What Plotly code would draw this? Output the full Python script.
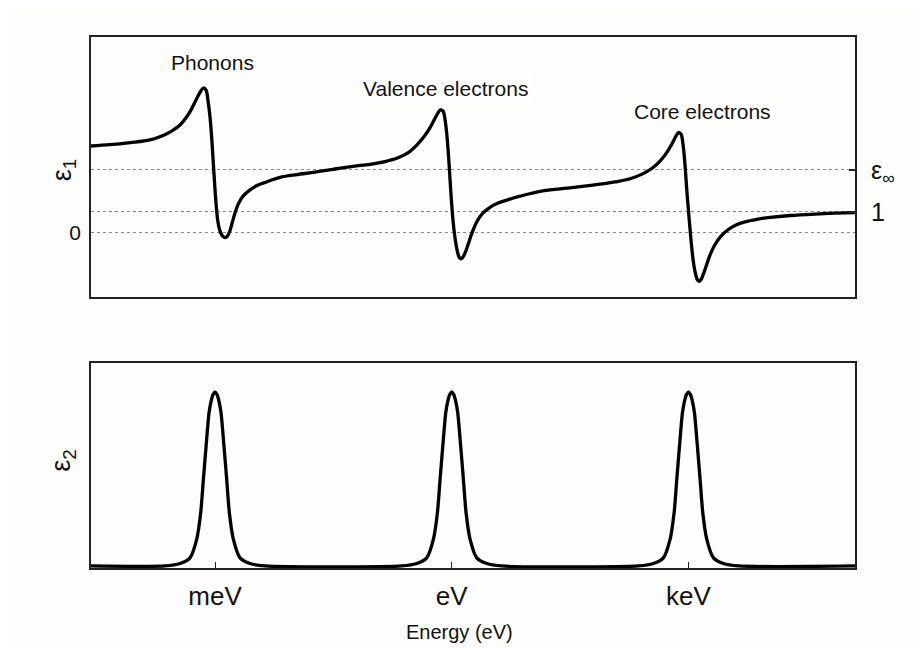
import plotly.graph_objects as go

# ---- data (x = log10 of energy in eV) ----
log_energy_eps1 = [-4.572, -4.331, -4.077, -3.824, -3.659, -3.545, -3.444, -3.368, -3.304, -3.241,
                   -3.190, -3.146, -3.114, -3.089, -3.063, -3.038, -3.013, -2.987, -2.962, -2.930,
                   -2.899, -2.873, -2.848, -2.816, -2.785, -2.747, -2.702, -2.645, -2.556, -2.455,
                   -2.341, -2.176, -1.961, -1.758, -1.504, -1.251, -1.036, -0.845, -0.681, -0.541,
                   -0.427, -0.338, -0.262, -0.199, -0.142, -0.110, -0.085, -0.060, -0.034, -0.009,
                   0.016, 0.042, 0.067, 0.093, 0.118, 0.143, 0.175, 0.207, 0.257, 0.321,
                   0.397, 0.485, 0.587, 0.701, 0.866, 1.119, 1.373, 1.626, 1.880, 2.070,
                   2.260, 2.412, 2.539, 2.640, 2.729, 2.792, 2.843, 2.875, 2.906, 2.932,
                   2.957, 2.982, 3.008, 3.033, 3.058, 3.084, 3.109, 3.134, 3.160, 3.185,
                   3.223, 3.274, 3.337, 3.413, 3.502, 3.603, 3.717, 3.870, 4.034, 4.288,
                   4.605, 4.858, 5.111]
eps1 = [4.14, 4.20, 4.30, 4.43, 4.64, 4.86, 5.14, 5.48, 5.86, 6.33,
        6.70, 6.90, 6.80, 6.30, 5.50, 4.30, 2.80, 1.40, 0.50, 0.02,
        -0.17, -0.22, -0.17, 0.05, 0.45, 0.95, 1.40, 1.75, 2.05, 2.28,
        2.44, 2.65, 2.78, 2.88, 3.03, 3.17, 3.27, 3.40, 3.58, 3.85,
        4.25, 4.65, 5.10, 5.55, 5.86, 5.80, 5.40, 4.60, 3.30, 1.80,
        0.60, -0.25, -0.80, -1.15, -1.24, -1.15, -0.90, -0.55, 0.00, 0.55,
        0.95, 1.22, 1.42, 1.57, 1.75, 1.98, 2.10, 2.20, 2.32, 2.43,
        2.58, 2.80, 3.08, 3.42, 3.85, 4.25, 4.62, 4.79, 4.70, 4.20,
        3.20, 1.90, 0.70, -0.35, -1.25, -1.85, -2.20, -2.31, -2.22, -2.00,
        -1.60, -1.05, -0.55, -0.15, 0.15, 0.38, 0.53, 0.65, 0.74, 0.83,
        0.90, 0.94, 0.97]

log_energy_eps2 = [-4.572,
                   -3.634, -3.444, -3.317, -3.232, -3.181, -3.148, -3.114, -3.076, -3.051, -3.025, -3.000,
                   -2.975, -2.949, -2.924, -2.886, -2.852, -2.819, -2.768, -2.683, -2.556, -2.366,
                   -0.634, -0.444, -0.317, -0.232, -0.181, -0.148, -0.114, -0.076, -0.051, -0.025, 0.000,
                   0.025, 0.051, 0.076, 0.114, 0.148, 0.181, 0.232, 0.317, 0.444, 0.634,
                   2.366, 2.556, 2.683, 2.768, 2.819, 2.852, 2.886, 2.924, 2.949, 2.975, 3.000,
                   3.025, 3.051, 3.076, 3.114, 3.148, 3.181, 3.232, 3.317, 3.444, 3.634,
                   5.111]
eps2 = [0.0,
        0.0, 0.012, 0.04, 0.132, 0.265, 0.426, 0.588, 0.755, 0.81, 0.845, 0.858,
        0.845, 0.81, 0.755, 0.588, 0.426, 0.265, 0.132, 0.04, 0.012, 0.0,
        0.0, 0.012, 0.04, 0.132, 0.265, 0.426, 0.588, 0.755, 0.81, 0.845, 0.858,
        0.845, 0.81, 0.755, 0.588, 0.426, 0.265, 0.132, 0.04, 0.012, 0.0,
        0.0, 0.012, 0.04, 0.132, 0.265, 0.426, 0.588, 0.755, 0.81, 0.845, 0.858,
        0.845, 0.81, 0.755, 0.588, 0.426, 0.265, 0.132, 0.04, 0.012, 0.0,
        0.0]

energy_ticks = [-3, 0, 3]
energy_tick_labels = ["meV", "eV", "keV"]
left_levels = [0]
left_labels = ["0"]
right_levels = [1, 3]                 # 1 and epsilon_infinity
right_labels = ["1", "ε<sub>∞</sub>"]
resonance_labels = ["Phonons", "Valence electrons", "Core electrons"]
resonance_label_x = [-3.03, -0.08, 3.18]
resonance_label_y = [8.1, 6.9, 5.8]

x_range = [-4.572, 5.111]
y1_range = [-3.05, 9.33]
y2_range = [-0.01, 1.0]

FONT = "Liberation Sans, Arial, sans-serif"
BG = "#fdfdfc"
GRID = "#8a8a8a"

fig = go.Figure()
fig.add_trace(go.Scatter(x=log_energy_eps1, y=eps1, mode="lines",
                         line=dict(color="black", width=3.3, shape="spline", smoothing=1.0),
                         xaxis="x", yaxis="y", showlegend=False, hoverinfo="skip"))
# same data bound to the right-hand axis so that it is drawn (kept invisible)
fig.add_trace(go.Scatter(x=log_energy_eps1, y=eps1, mode="lines", opacity=0,
                         line=dict(color="black", width=0.1),
                         xaxis="x", yaxis="y3", showlegend=False, hoverinfo="skip"))
fig.add_trace(go.Scatter(x=log_energy_eps2, y=eps2, mode="lines",
                         line=dict(color="black", width=3.3, shape="spline", smoothing=0.7),
                         xaxis="x2", yaxis="y2", showlegend=False, hoverinfo="skip"))

frame = dict(showline=True, linecolor="#222", linewidth=1.6, mirror=True, zeroline=False)

fig.update_layout(
    width=921, height=648,
    margin=dict(l=83, r=74, t=29, b=88),
    paper_bgcolor=BG, plot_bgcolor=BG,
    font=dict(family=FONT, color="#111"),
    xaxis=dict(domain=[0, 1], range=x_range, anchor="y", showticklabels=False, ticks="",
               showgrid=False, **frame),
    yaxis=dict(domain=[0.5104, 1.0], range=y1_range, anchor="x",
               tickmode="array", tickvals=left_levels, ticktext=left_labels, ticks="",
               ticklabelstandoff=4,
               tickfont=dict(size=21), showgrid=True, gridcolor=GRID, gridwidth=1,
               griddash="dot", **frame),
    yaxis3=dict(overlaying="y", side="right", range=y1_range, anchor="x",
                tickmode="array", tickvals=right_levels, ticktext=right_labels,
                ticks="inside", ticklen=6, tickcolor="#222", tickwidth=1.5,
                ticklabelstandoff=15,
                tickfont=dict(size=25), showgrid=True, gridcolor=GRID, gridwidth=1,
                griddash="dot", zeroline=False, showline=False),
    xaxis2=dict(domain=[0, 1], range=x_range, anchor="y2",
                tickmode="array", tickvals=energy_ticks, ticktext=energy_tick_labels,
                ticks="inside", ticklen=6, tickcolor="#222", tickwidth=1,
                ticklabelstandoff=4,
                tickfont=dict(size=26), showgrid=False, **frame),
    yaxis2=dict(domain=[0, 0.386], range=y2_range, anchor="x2", showticklabels=False,
                ticks="", showgrid=False, **frame),
)

for txt, xv, yv in zip(resonance_labels, resonance_label_x, resonance_label_y):
    fig.add_annotation(x=xv, y=yv, xref="x", yref="y", text=txt, showarrow=False,
                       font=dict(size=21, color="#111"), bgcolor="white")

fig.add_annotation(x=0.4817, y=-0.1205, xref="paper", yref="paper", text="Energy (eV)",
                   xanchor="center", yanchor="middle", showarrow=False,
                   font=dict(size=20, color="#111"))
fig.add_annotation(x=-0.036, y=0.750, xref="paper", yref="paper", text="ε<sub>1</sub>",
                   xanchor="center", yanchor="middle",
                   textangle=-90, showarrow=False, font=dict(size=27, color="#111"))
fig.add_annotation(x=-0.036, y=0.203, xref="paper", yref="paper", text="ε<sub>2</sub>",
                   xanchor="center", yanchor="middle",
                   textangle=-90, showarrow=False, font=dict(size=27, color="#111"))

fig.write_html("out.html")
